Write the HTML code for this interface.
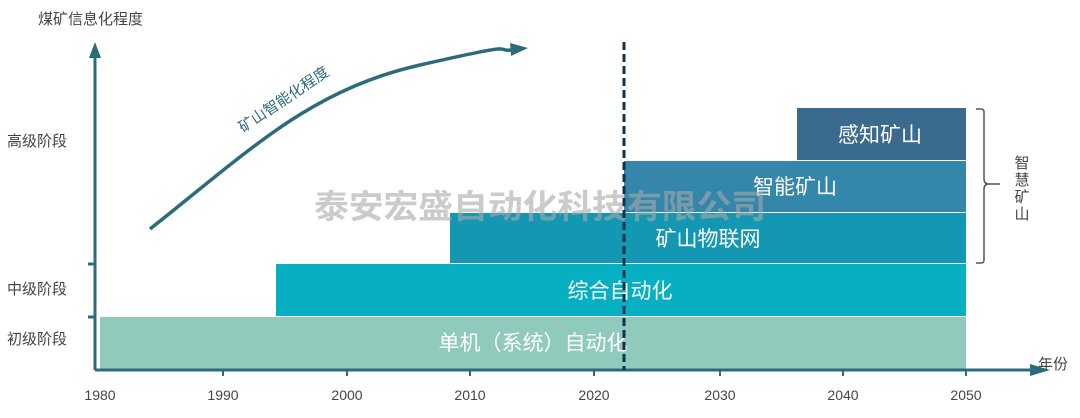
<!DOCTYPE html>
<html><head><meta charset="utf-8"><style>
html,body{margin:0;padding:0;background:#fff;}
svg text{font-family:"Liberation Sans","Noto Sans CJK SC",sans-serif;}
</style></head><body>
<svg width="1080" height="413" viewBox="0 0 1080 413" xmlns="http://www.w3.org/2000/svg">
<rect width="1080" height="413" fill="#fff"/>
<rect x="100" y="317" width="866" height="52" fill="#8fcabd"/>
<rect x="276" y="264" width="690" height="52" fill="#06b0c2"/>
<rect x="450" y="213" width="516" height="50" fill="#1497b2"/>
<rect x="624" y="161" width="342" height="51" fill="#3486ab"/>
<rect x="797" y="108" width="169" height="52" fill="#3a6a8e"/>
<g fill="#fff" font-size="21" text-anchor="middle">
<text x="533" y="350">单机（系统）自动化</text>
<text x="620" y="298">综合自动化</text>
<text x="708" y="246">矿山物联网</text>
<text x="795" y="194">智能矿山</text>
<text x="880" y="142">感知矿山</text>
</g>
<text x="540" y="218" font-size="33" font-weight="bold" fill="#a8a8a8" fill-opacity="0.6" text-anchor="middle" textLength="452" lengthAdjust="spacingAndGlyphs">泰安宏盛自动化科技有限公司</text>
<g stroke="#2c6b7c" stroke-width="3" fill="none">
<line x1="95" y1="370" x2="95" y2="52"/>
<line x1="95" y1="370" x2="1030" y2="370"/>
<line x1="88" y1="264" x2="95" y2="264"/>
<line x1="88" y1="317" x2="95" y2="317"/>
</g>
<polygon points="95,42 89,58 101,58" fill="#2c6b7c"/>
<polygon points="1050,370 1030,364 1030,376" fill="#2c6b7c"/>
<g stroke="#2c6b7c" stroke-width="2">
<line x1="223" y1="370" x2="223" y2="376"/><line x1="347" y1="370" x2="347" y2="376"/>
<line x1="470" y1="370" x2="470" y2="376"/><line x1="594" y1="370" x2="594" y2="376"/>
<line x1="720" y1="370" x2="720" y2="376"/><line x1="843" y1="370" x2="843" y2="376"/>
<line x1="966" y1="370" x2="966" y2="376"/>
</g>
<g fill="#444" font-size="14" text-anchor="middle">
<text x="100" y="400">1980</text><text x="223" y="400">1990</text><text x="347" y="400">2000</text>
<text x="470" y="400">2010</text><text x="594" y="400">2020</text><text x="720" y="400">2030</text>
<text x="843" y="400">2040</text><text x="966" y="400">2050</text>
</g>
<g fill="#444" font-size="15">
<text x="38" y="24">煤矿信息化程度</text>
<text x="7" y="146">高级阶段</text>
<text x="7" y="294">中级阶段</text>
<text x="7" y="344">初级阶段</text>
<text x="1038" y="369">年份</text>
</g>
<line x1="624" y1="42" x2="624" y2="370" stroke="#10304e" stroke-width="3" stroke-dasharray="8,4"/>
<path d="M150,229 C250,150 310,90 420,65 S490,52 512,50" stroke="#2c6b7c" stroke-width="3.5" fill="none"/>
<polygon points="528,48 510,43 511,56" fill="#2c6b7c"/>
<text x="0" y="0" font-size="15" fill="#2c6b7c" transform="translate(243,133) rotate(-34)">矿山智能化程度</text>
<path d="M976,109 h5 q3,0 3,3 v67 q0,5 5,5 h11 M989,184 q-5,0 -5,5 v71 q0,3 -3,3 h-5" stroke="#555" stroke-width="1.5" fill="none"/>
<g fill="#444" font-size="15" text-anchor="middle">
<text x="1022" y="168">智</text><text x="1022" y="185">慧</text><text x="1022" y="202">矿</text><text x="1022" y="219">山</text>
</g>
</svg>
</body></html>
